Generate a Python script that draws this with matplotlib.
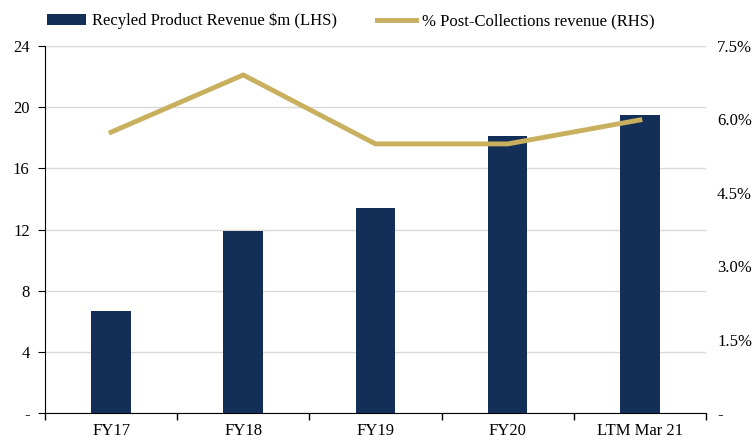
import numpy as np
import matplotlib.pyplot as plt
from matplotlib.ticker import FuncFormatter

plt.rcParams['font.family'] = ['Liberation Serif', 'DejaVu Serif']

categories = ['FY17', 'FY18', 'FY19', 'FY20', 'LTM Mar 21']
revenue = [6.7, 11.9, 13.4, 18.1, 19.5]          # $m, left axis
post_coll_pct = [5.74, 6.91, 5.50, 5.50, 5.99]    # %, right axis

bar_color = '#142F57'
line_color = '#C9B05F'

fig = plt.figure(figsize=(7.55, 4.43), dpi=100)
ax = fig.add_axes([0.0596, 0.0677, 0.8754, 0.8283])
ax2 = ax.twinx()

x = np.arange(len(categories))
ax.bar(x, revenue, width=0.3, color=bar_color, label='Recyled Product Revenue $m (LHS)', zorder=3)
ax2.plot(x, post_coll_pct, color=line_color, lw=3.5, label='% Post-Collections revenue (RHS)', zorder=4)

ax.set_xlim(-0.5, len(categories) - 0.5)
ax.set_ylim(0, 24)
ax.set_yticks([0, 4, 8, 12, 16, 20, 24])
ax.yaxis.set_major_formatter(FuncFormatter(lambda v, p: '-' if v == 0 else f'{v:.0f}'))
ax2.set_ylim(0, 7.5)
ax2.set_yticks([0, 1.5, 3.0, 4.5, 6.0, 7.5])
ax2.yaxis.set_major_formatter(FuncFormatter(lambda v, p: '-' if v == 0 else f'{v:.1f}%'))

ax.grid(axis='y', color='#D9D9D9', lw=1, zorder=0)
ax.set_axisbelow(True)

# category labels centred, ticks between categories
ax.set_xticks(np.arange(-0.5, len(categories), 1.0))
ax.set_xticklabels([])
ax.set_xticks(x, minor=True)
ax.set_xticklabels(categories, minor=True, fontsize=12)
ax.tick_params(axis='x', which='minor', length=0, pad=7)
ax.tick_params(axis='x', which='major', length=5, width=1, color='black', direction='out')
ax.tick_params(axis='y', labelsize=12, length=5, color='black', pad=6)
ax2.tick_params(axis='y', labelsize=12, length=0, pad=8)

for a in (ax, ax2):
    a.spines['top'].set_visible(False)
    a.spines['right'].set_visible(False)
ax2.spines['left'].set_visible(False)
ax2.spines['bottom'].set_visible(False)
ax.spines['left'].set_color('black')
ax.spines['bottom'].set_color('black')

h1, l1 = ax.get_legend_handles_labels()
h2, l2 = ax2.get_legend_handles_labels()
fig.legend(h1 + h2, l1 + l2, loc='upper left', bbox_to_anchor=(0.043, 1.005), ncol=2,
           frameon=False, fontsize=12, handlelength=2.3, handleheight=0.6,
           handletextpad=0.4, columnspacing=2.4)

fig.savefig('out.png', dpi=100)
